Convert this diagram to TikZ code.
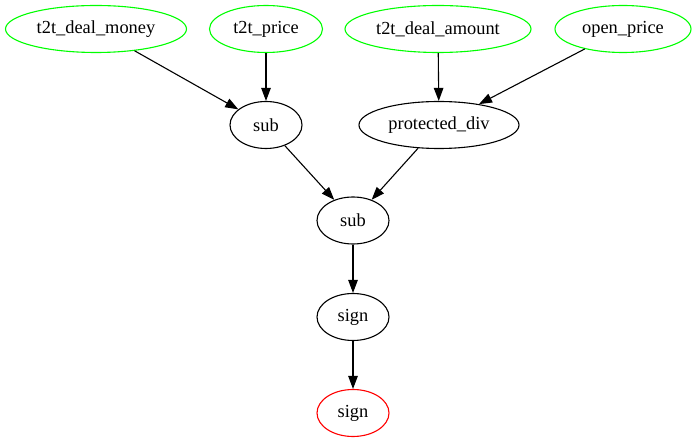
\documentclass[tikz,border=0pt]{standalone}
\usepackage{fontspec}
\setmainfont{Liberation Serif}
\usetikzlibrary{shapes.geometric,arrows.meta}
\definecolor{gvgreen}{RGB}{0,255,0}
\definecolor{gvred}{RGB}{255,0,0}
\tikzset{
  gv/.style={ellipse, draw, line width=1.1pt, inner sep=0pt, minimum height=47pt, font=\fontsize{18.4}{20}\selectfont},
  leaf/.style={gv, draw=gvgreen},
  root/.style={gv, draw=gvred},
  edge/.style={-{Triangle[length=13pt,width=9.5pt]}, line width=1.1pt}
}
\begin{document}
\begin{tikzpicture}[x=1pt,y=-1pt]
\useasboundingbox (0,0) rectangle (696,443);
\node[leaf, minimum width=181pt] (dm) at (96,29) {t2t\_deal\_money};
\node[leaf, minimum width=113pt] (tp) at (266,29) {t2t\_price};
\node[leaf, minimum width=186pt] (da) at (438,29) {t2t\_deal\_amount};
\node[leaf, minimum width=136pt] (op) at (623,29) {open\_price};
\node[gv, minimum width=72pt] (s1) at (266,125) {sub};
\node[gv, minimum width=160pt] (pd) at (439,125) {protected\_div};
\node[gv, minimum width=72pt] (s2) at (353,220.5) {sub};
\node[gv, minimum width=72pt] (g1) at (353,317) {sign};
\node[root, minimum width=72pt] (g2) at (353,413) {sign};
\draw[edge] (dm) -- (s1);
\draw[edge] (tp) -- (s1);
\draw[edge] (da) -- (pd);
\draw[edge] (op) -- (pd);
\draw[edge] (s1) -- (s2);
\draw[edge] (pd) -- (s2);
\draw[edge] (s2) -- (g1);
\draw[edge] (g1) -- (g2);
\end{tikzpicture}
\end{document}
